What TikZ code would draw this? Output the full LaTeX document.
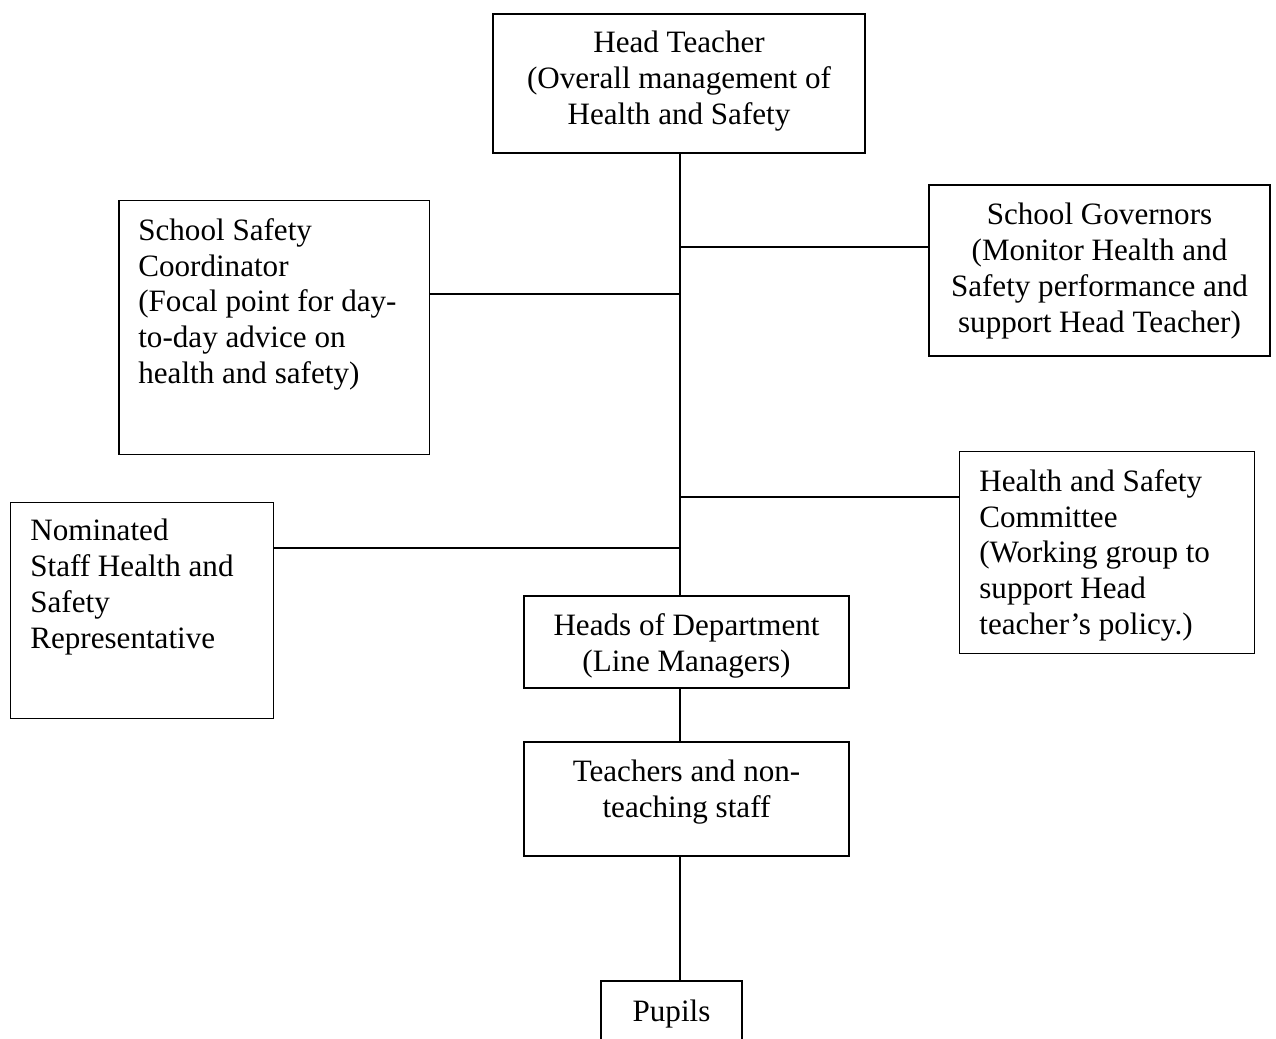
\documentclass[tikz,border=0pt]{standalone}
\usepackage{fontspec}
\setmainfont{Liberation Serif}
\usetikzlibrary{positioning}

\tikzset{
  box/.style={draw, line width=1pt, inner sep=0pt},
  boxwh/.style 2 args={minimum width=#1*0.5669pt, minimum height=#2*0.5669pt},
  txt/.style={inner sep=0pt, font=\fontsize{17.7}{20.4}\selectfont},
  link/.style={line width=1pt}
}

\begin{document}
\begin{tikzpicture}[x=0.02cm, y=-0.02cm]
    \useasboundingbox (0,0) rectangle (1276,1039);
    \clip (0,0) rectangle (1276,1039);
    % Boxes
    \node[box, boxwh={374}{139}] (ht) at (679,83.5) {};
    \node[box, boxwh={343}{171}] (gov) at (1099.5,270.5) {};
    \node[box, boxwh={312}{255}] (coord) at (274,327.5) {};
    \node[box, boxwh={296}{203}] (comm) at (1107,552.5) {};
    \node[box, boxwh={264}{217}] (nom) at (142,610.5) {};
    \node[box, boxwh={327}{92}] (hod) at (686.5,642) {};
    \node[box, boxwh={327}{114}] (tea) at (686.5,799) {};
    \node[box, boxwh={141}{100}] (pup) at (671.5,1031) {};
    % Texts
    \node[txt, align=center, anchor=north] (htt) at (679,31) {Head Teacher\\(Overall management of\\Health and Safety};
    \node[txt, align=center, anchor=north] (govt) at (1099.5,203) {School Governors\\(Monitor Health and\\Safety performance and\\support Head Teacher)};
    \node[txt, align=left, anchor=north west] (coordt) at (138,218) {School Safety\\Coordinator\\(Focal point for day-\\to-day advice on\\health and safety)};
    \node[txt, align=left, anchor=north west] (commt) at (979,469) {Health and Safety\\Committee\\(Working group to\\support Head\\teacher’s policy.)};
    \node[txt, align=left, anchor=north west] (nomt) at (30,519) {Nominated\\Staff Health and\\Safety\\Representative};
    \node[txt, align=center, anchor=north] (hodt) at (686.5,613) {Heads of Department\\(Line Managers)};
    \node[txt, align=center, anchor=north] (teat) at (686.5,760) {Teachers and non-\\teaching staff};
    \node[txt, align=center, anchor=north] (pupt) at (671.5,1000) {Pupils};
    % Spine and branches
    \coordinate (spine) at (680,153);
    \coordinate (j1) at (680,247);
    \coordinate (j2) at (680,294);
    \coordinate (j3) at (680,497);
    \coordinate (j4) at (680,548);
    \draw[link] (spine) -- (spine |- hod.north);
    \draw[link] (j1) -- (j1 -| gov.west);
    \draw[link] (j2) -- (j2 -| coord.east);
    \draw[link] (j3) -- (j3 -| comm.west);
    \draw[link] (j4) -- (j4 -| nom.east);
    \draw[link] (spine |- hod.south) -- (spine |- tea.north);
    \draw[link] (spine |- tea.south) -- (spine |- pup.north);
\end{tikzpicture}
\end{document}
